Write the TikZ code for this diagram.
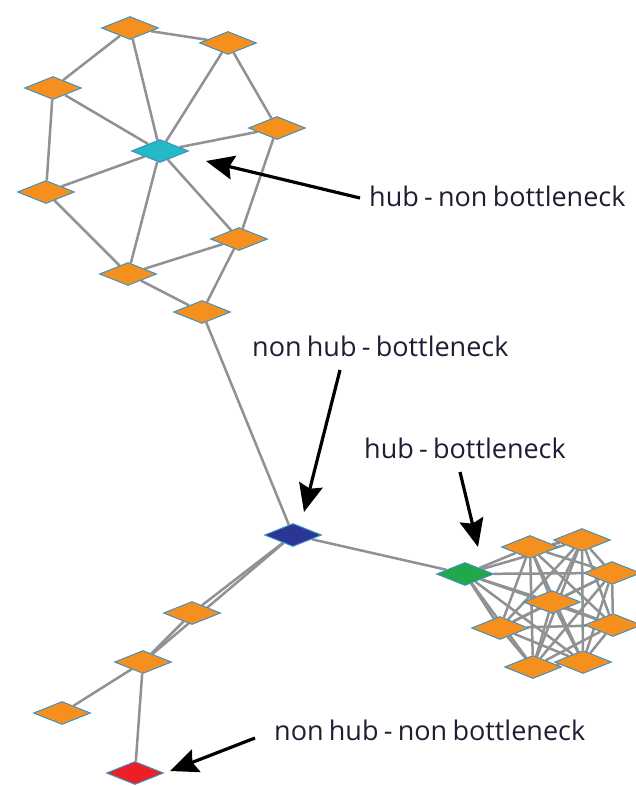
\documentclass[tikz,border=0pt]{standalone}
\usepackage{fontspec}
\setmainfont{Open Sans}[WordSpace=0.75]
\usetikzlibrary{shapes.geometric,arrows.meta,backgrounds}
\definecolor{orangeN}{HTML}{F5901E}
\definecolor{cyanN}{HTML}{25B8C6}
\definecolor{blueN}{HTML}{2B3595}
\definecolor{greenN}{HTML}{20A84A}
\definecolor{redN}{HTML}{EC1F26}
\definecolor{dborder}{HTML}{3F8FC0}
\definecolor{edgegray}{HTML}{909192}
\definecolor{labelc}{HTML}{1F1D33}
\begin{document}
\begin{tikzpicture}[x=1pt,y=-1pt,
  dnode/.style={diamond, draw=dborder, line width=1pt, minimum width=57pt, minimum height=23pt, inner sep=0pt, fill=orangeN},
  edge/.style={draw=edgegray, line width=2.5pt},
  lbl/.style={font=\fontsize{27}{32}\selectfont, text=labelc, anchor=base west, inner sep=0pt},
  ptr/.style={draw=black, line width=3.2pt, -{Stealth[length=28pt,width=24pt,inset=4pt]}}]
\useasboundingbox (0,0) rectangle (635,786);
% top cluster
\node[dnode] (A) at (130,28) {};
\node[dnode] (B) at (228,43) {};
\node[dnode] (C) at (53,88) {};
\node[dnode] (D) at (277,128) {};
\node[dnode, fill=cyanN] (hub) at (160,151) {};
\node[dnode] (E) at (46,192) {};
\node[dnode] (F) at (239,239) {};
\node[dnode] (G) at (128,274) {};
\node[dnode] (H) at (202,312) {};
% middle
\node[dnode, fill=blueN] (blue) at (293,535) {};
\node[dnode, fill=greenN] (green) at (465,574) {};
% right cluster
\node[dnode] (r1) at (530,547) {};
\node[dnode] (r2) at (582,540) {};
\node[dnode] (r3) at (612,573) {};
\node[dnode] (r4) at (552,602) {};
\node[dnode] (r5) at (500,628) {};
\node[dnode] (r6) at (613,625) {};
\node[dnode] (r7) at (533,667) {};
\node[dnode] (r8) at (583,662) {};
% bottom left
\node[dnode] (L1) at (192,613) {};
\node[dnode] (L2) at (143,662) {};
\node[dnode] (L3) at (62,713) {};
\node[dnode, fill=redN] (red) at (135,773) {};
\begin{scope}[on background layer]
\foreach \a/\b in {A/B, A/C, A/hub, B/hub, B/D, C/hub, C/E, D/hub, D/F, E/hub, E/G, hub/G, hub/F, F/G, F/H, G/H, H/blue,
  blue/green, blue/L1, blue/L2, L1/L2, L2/L3, L2/red}
  \draw[edge] (\a) -- (\b);
\foreach \a [count=\i] in {green,r1,r2,r3,r4,r5,r6,r7,r8}
  \foreach \b [count=\j] in {green,r1,r2,r3,r4,r5,r6,r7,r8}
    {\ifnum\j>\i \draw[edge] (\a) -- (\b);\fi}
\end{scope}
% labels
\node[lbl] (l1) at (369,207) {hub - non bottleneck};
\node[lbl] (l2) at (252,356) {non hub - bottleneck};
\node[lbl] (l3) at (364,458) {hub - bottleneck};
\node[lbl] (l4) at (274,740) {non hub - non bottleneck};
\coordinate (t1) at (360,198);
\coordinate (p1) at (206,161);
\coordinate (t2) at (340,370);
\coordinate (p2) at (304,512);
\coordinate (t3) at (460,472);
\coordinate (p3) at (478,547);
\coordinate (t4) at (255,738);
\coordinate (p4) at (170,771);
\draw[ptr] (t1) -- (p1);
\draw[ptr] (t2) -- (p2);
\draw[ptr] (t3) -- (p3);
\draw[ptr] (t4) -- (p4);
\end{tikzpicture}
\end{document}
